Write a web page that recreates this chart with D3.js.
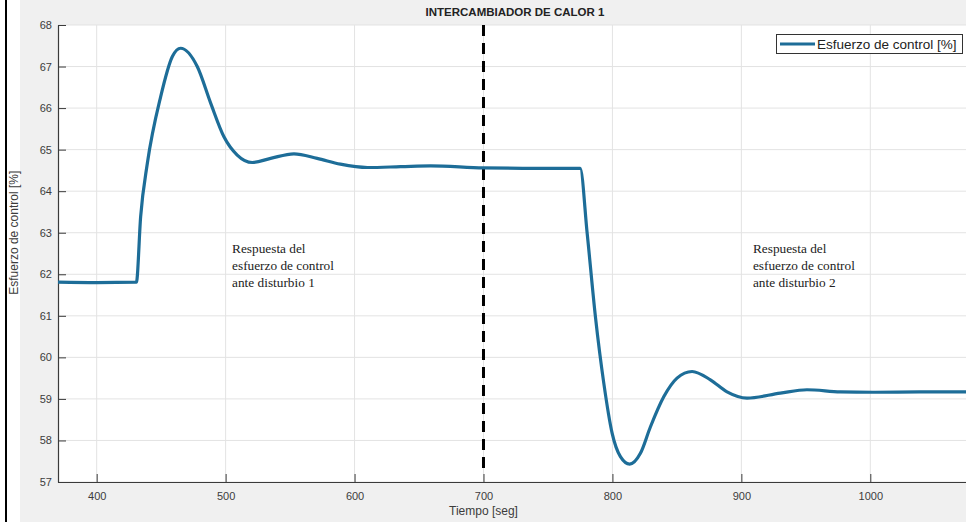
<!DOCTYPE html>
<html>
<head>
<meta charset="utf-8">
<script src="https://cdn.jsdelivr.net/npm/d3@7"></script>
<style>
  body { margin: 0; background: #fff; }
  svg { display: block; }
</style>
</head>
<body>
<div class="chart"></div>
<script>
// Data
var tiempo = [370, 400, 430.8, 434.1, 439.3, 449.6, 458.7, 465.1, 478, 488.4, 498.7, 509, 520.7, 534.9, 553, 571, 589, 610, 635.7, 659, 700, 740, 775,
              780.4, 786.8, 793.3, 799.8, 806.2, 813.4, 821.7, 829.5, 839.8, 850.1, 861.8, 876, 888.9, 904.4, 930.2, 950.9, 976.7, 1002, 1040, 1080];
var esfuerzo = [61.81, 61.80, 61.81, 63.39, 64.67, 66.27, 67.24, 67.44, 67.0, 66.12, 65.31, 64.87, 64.69, 64.79, 64.9, 64.79, 64.65, 64.57, 64.59, 64.61, 64.56, 64.55, 64.55,
                62.99, 60.98, 59.38, 58.17, 57.61, 57.43, 57.69, 58.33, 59.05, 59.50, 59.66, 59.46, 59.17, 59.02, 59.14, 59.22, 59.17, 59.16, 59.17, 59.17];
var xTicks = [400, 500, 600, 700, 800, 900, 1000];
var yTicks = [57, 58, 59, 60, 61, 62, 63, 64, 65, 66, 67, 68];
var disturbio = 700;
var notas = [
  {t: 505, v: 62.51, lineas: ["Respuesta del", "esfuerzo de control", "ante disturbio 1"]},
  {t: 909, v: 62.51, lineas: ["Respuesta del", "esfuerzo de control", "ante disturbio 2"]}
];

var width = 966, height = 522;
var margin = {left: 58, top: 25, right: -1, bottom: 40};

var svg = d3.select(".chart").append("svg")
    .attr("width", width)
    .attr("height", height)
    .style("font-family", "'Liberation Sans', Arial, sans-serif");

// figure background
svg.append("rect").attr("width", width).attr("height", height).attr("fill", "#fff");
svg.append("rect").attr("x", 20).attr("width", width - 20).attr("height", height).attr("fill", "#f0f0f0");
svg.append("rect").attr("x", 5).attr("width", 2).attr("height", height).attr("fill", "#000");

var x = d3.scaleLinear().domain([370, 1075]).range([margin.left, width - margin.right]);
var y = d3.scaleLinear().domain([57, 68]).range([482, margin.top]);

svg.append("rect")
    .attr("x", x(370)).attr("y", y(68))
    .attr("width", x(1075) - x(370)).attr("height", y(57) - y(68))
    .attr("fill", "#fff");

// grid
svg.append("g").selectAll("line").data(xTicks).enter().append("line")
    .attr("x1", d => x(d)).attr("x2", d => x(d))
    .attr("y1", y(68)).attr("y2", y(57))
    .attr("stroke", "#e3e3e3").attr("stroke-width", 1);
svg.append("g").selectAll("line").data(yTicks).enter().append("line")
    .attr("x1", x(370)).attr("x2", width)
    .attr("y1", d => y(d)).attr("y2", d => y(d))
    .attr("stroke", "#e3e3e3").attr("stroke-width", 1);

// axes (ticks inside, like matlab)
var xAxis = svg.append("g")
    .attr("transform", "translate(0," + y(57) + ")")
    .call(d3.axisBottom(x).tickValues(xTicks).tickFormat(d3.format("d")).tickSize(-8).tickPadding(10).tickSizeOuter(0));
var yAxis = svg.append("g")
    .attr("transform", "translate(" + x(370) + ",0)")
    .call(d3.axisLeft(y).tickValues(yTicks).tickFormat(d3.format("d")).tickSize(-8).tickPadding(6).tickSizeOuter(0));

[xAxis, yAxis].forEach(function(a) {
  a.select(".domain").attr("stroke", "#3a3a3a").attr("stroke-width", 1.2);
  a.selectAll(".tick line").attr("stroke", "#3a3a3a");
  a.selectAll(".tick text").attr("fill", "#3c3c3c")
      .style("font-size", "11px").style("font-family", "'Liberation Sans', Arial, sans-serif");
});

// dashed disturbance line
svg.append("line")
    .attr("x1", x(disturbio)).attr("x2", x(disturbio))
    .attr("y1", y(68)).attr("y2", y(57) - 10)
    .attr("stroke", "#000").attr("stroke-width", 3)
    .attr("stroke-dasharray", "11,7");

// the curve
var line = d3.line()
    .x((d, i) => x(tiempo[i]))
    .y(d => y(d))
    .curve(d3.curveMonotoneX);

svg.append("path")
    .datum(esfuerzo)
    .attr("fill", "none")
    .attr("stroke", "#1d6d98")
    .attr("stroke-width", 3.2)
    .attr("stroke-linejoin", "round")
    .attr("d", line);

// annotations
notas.forEach(function(n) {
  var t = svg.append("text")
      .attr("x", x(n.t)).attr("y", y(n.v))
      .style("font-family", "'Liberation Serif', 'Times New Roman', serif")
      .style("font-size", "13.3px")
      .attr("fill", "#222");
  t.selectAll("tspan").data(n.lineas).enter().append("tspan")
      .attr("x", x(n.t))
      .attr("dy", (d, i) => i === 0 ? 0 : 17)
      .text(d => d);
});

// title and labels
svg.append("text")
    .attr("x", 515).attr("y", 16)
    .attr("text-anchor", "middle")
    .style("font-size", "11.5px").style("font-weight", "bold")
    .attr("fill", "#222")
    .text("INTERCAMBIADOR DE CALOR 1");

svg.append("text")
    .attr("x", x(700)).attr("y", 515)
    .attr("text-anchor", "middle")
    .style("font-size", "12px")
    .attr("fill", "#3c3c3c")
    .text("Tiempo [seg]");

svg.append("text")
    .attr("transform", "translate(18," + y(63) + ") rotate(-90)")
    .attr("text-anchor", "middle")
    .style("font-size", "12px")
    .attr("fill", "#3c3c3c")
    .text("Esfuerzo de control [%]");

// legend
var lg = svg.append("g");
lg.append("rect")
    .attr("x", 776.5).attr("y", 34.5).attr("width", 186).attr("height", 19)
    .attr("fill", "#fff").attr("stroke", "#333").attr("stroke-width", 1);
lg.append("line")
    .attr("x1", 780).attr("x2", 815).attr("y1", 44).attr("y2", 44)
    .attr("stroke", "#1d6d98").attr("stroke-width", 3.2);
lg.append("text")
    .attr("x", 817).attr("y", 49)
    .style("font-size", "13.5px")
    .attr("fill", "#222")
    .text("Esfuerzo de control [%]");
</script>
</body>
</html>
